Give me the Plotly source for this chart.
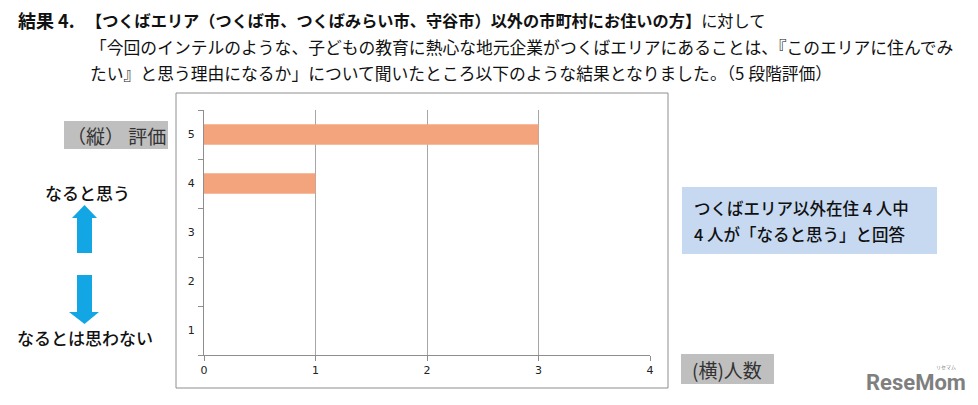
import plotly.graph_objects as go

# ---- data ----
ratings = ["1", "2", "3", "4", "5"]
counts = [0, 0, 0, 1, 3]
x_ticks = [0, 1, 2, 3, 4]

title_head = "結果 4."
title_line1 = "<b>【つくばエリア（つくば市、つくばみらい市、守谷市）以外の市町村にお住いの方】</b>に対して"
title_line2 = "「今回のインテルのような、子どもの教育に熱心な地元企業がつくばエリアにあることは、『このエリアに住んでみ"
title_line3 = "たい』と思う理由になるか」について聞いたところ以下のような結果となりました。（5 段階評価）"
y_label = "（縦） 評価"
x_label = "(横)人数"
top_label = "なると思う"
bottom_label = "なるとは思わない"
note_lines = ["つくばエリア以外在住 4 人中", "4 人が「なると思う」と回答"]

# ---- layout geometry (pixels) ----
WIDTH, HEIGHT = 978, 405
L, R, T, B = 204, 650, 110, 355
W, H = R - L, B - T


def fx(px):
    return (px - L) / W


def fy(py):
    return (B - py) / H


FONT = "Noto Sans CJK JP"
GRAY = "#8E8E8E"

fig = go.Figure()
fig.add_trace(go.Bar(
    y=ratings, x=counts, orientation="h", width=0.42,
    marker=dict(color="#F4A47C", line=dict(width=0)),
    hoverinfo="x+y",
))

shapes = []
# outer chart frame
shapes.append(dict(type="rect", xref="paper", yref="paper",
                   x0=fx(176), x1=fx(668), y0=fy(388), y1=fy(93),
                   line=dict(color=GRAY, width=1), fillcolor="rgba(0,0,0,0)", layer="below"))
# gray label boxes
shapes.append(dict(type="rect", xref="paper", yref="paper",
                   x0=fx(64), x1=fx(168), y0=fy(149), y1=fy(121),
                   line=dict(width=0), fillcolor="#BFBFBF"))
shapes.append(dict(type="rect", xref="paper", yref="paper",
                   x0=fx(681), x1=fx(774), y0=fy(384), y1=fy(354),
                   line=dict(width=0), fillcolor="#BFBFBF"))
# blue note box
shapes.append(dict(type="rect", xref="paper", yref="paper",
                   x0=fx(682), x1=fx(937), y0=fy(254), y1=fy(187),
                   line=dict(width=0), fillcolor="#C6D9F1"))


def path(pts):
    return "M " + " L ".join(f"{fx(a):.5f},{fy(b):.5f}" for a, b in pts) + " Z"


ARROW = "#12A6E4"
up_pts = [(77, 253), (77, 218), (72, 218), (84.5, 205), (97, 218), (92, 218), (92, 253)]
down_pts = [(77, 275), (92, 275), (92, 312), (99, 312), (84.5, 324), (69, 312), (77, 312)]
for pts in (up_pts, down_pts):
    shapes.append(dict(type="path", xref="paper", yref="paper", path=path(pts),
                       fillcolor=ARROW, line=dict(width=0)))

annotations = []


def text(s, x, y, size, color="#111111", xanchor="left", family=FONT, weight=None):
    f = dict(family=family, size=size, color=color)
    if weight is not None:
        f["weight"] = weight
    annotations.append(dict(xref="paper", yref="paper", x=fx(x), y=fy(y), text=s,
                            showarrow=False, xanchor=xanchor, yanchor="middle", font=f))


text("<b>" + title_head + "</b>", 16, 20, 18)
text(title_line1, 84, 20, 16.2)
text(title_line2, 88, 47, 16.8)
text(title_line3, 88, 73, 16.8)
text(y_label, 116, 135, 19, color="#333333", xanchor="center")
text(x_label, 727, 369, 19, color="#333333", xanchor="center")
text(top_label, 87, 192, 17, xanchor="center", weight=500)
text(bottom_label, 85, 337, 17, xanchor="center", weight=500)
text(note_lines[0], 692, 208, 16.5, weight=500)
text(note_lines[1], 692, 234, 16.5, weight=500)
text("<b>ReseMom</b>", 916, 382, 22, color="#7F7F7F", xanchor="center", family="Roboto")
text("リセマム", 946, 367, 5, color="#7F7F7F", xanchor="center")

fig.update_layout(
    width=WIDTH, height=HEIGHT,
    margin=dict(l=L, r=WIDTH - R, t=T, b=HEIGHT - B, pad=0),
    paper_bgcolor="white", plot_bgcolor="white",
    showlegend=False,
    shapes=shapes, annotations=annotations,
    xaxis=dict(range=[0, 4], tickmode="array", tickvals=x_ticks,
               showgrid=True, gridcolor="#A6A6A6", gridwidth=1,
               zeroline=False, showline=True, linecolor=GRAY, linewidth=1,
               ticks="outside", ticklen=5, tickcolor=GRAY,
               tickfont=dict(family="DejaVu Sans", size=11, color="#222222"),
               fixedrange=True),
    yaxis=dict(type="category", categoryorder="array", categoryarray=ratings,
               range=[-0.5, 4.5], tickson="boundaries",
               showgrid=False, zeroline=False, showline=True, linecolor=GRAY, linewidth=1,
               ticks="outside", ticklen=5, tickcolor=GRAY, ticklabelstandoff=6,
               tickfont=dict(family="DejaVu Sans", size=11, color="#222222"),
               fixedrange=True),
)

fig.write_html("out.html", config={"displayModeBar": False},
               post_script="document.body.style.margin='0';document.body.style.overflow='hidden';")
